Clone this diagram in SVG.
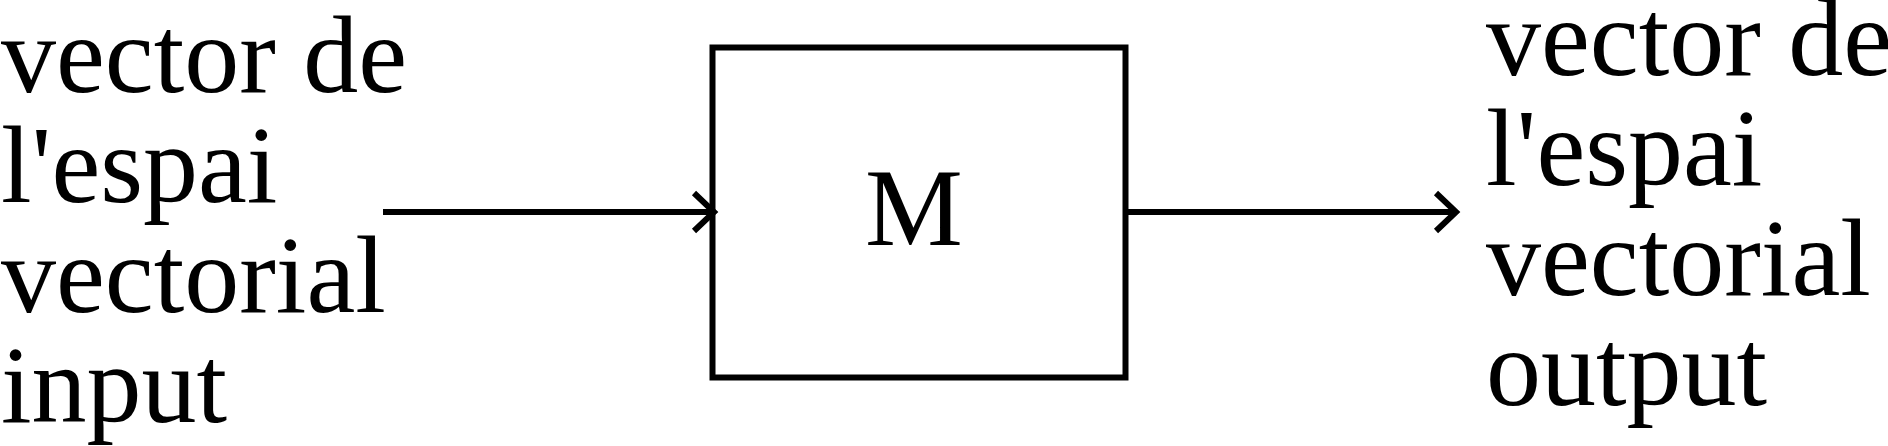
<svg xmlns="http://www.w3.org/2000/svg" width="1888" height="446" viewBox="0 0 1888 446">
<style>
text { font-family: "Liberation Serif", "Times New Roman", serif; font-size: 110px; fill: #000; }
.edge { stroke: #000; stroke-width: 6; fill: none; }
.box { stroke: #000; stroke-width: 6; fill: #fff; }
</style>
<defs>
<marker id="arrow" markerUnits="userSpaceOnUse" markerWidth="60" markerHeight="60" refX="0" refY="0" orient="auto" overflow="visible">
<path d="M-20,-19 L0,0 L-20,19" fill="none" stroke="#000" stroke-width="6" stroke-linejoin="miter"/>
</marker>
</defs>
<rect width="1888" height="446" fill="#fff"/>
<g id="input">
<text x="1" y="92">vector de</text>
<text x="1" y="202">l'espai</text>
<text x="1" y="312">vectorial</text>
<text x="1" y="422">input</text>
</g>
<g id="M">
<rect class="box" x="712.5" y="47.5" width="413" height="330"/>
<text x="914" y="245" text-anchor="middle">M</text>
</g>
<g id="output">
<text x="1486" y="75">vector de</text>
<text x="1486" y="185">l'espai</text>
<text x="1486" y="295">vectorial</text>
<text x="1486" y="405">output</text>
</g>
<g id="connectors">
<path class="edge" d="M383,212 L714,212" marker-end="url(#arrow)"/>
<path class="edge" d="M1125.5,212 L1456,212" marker-end="url(#arrow)"/>
</g>
</svg>
